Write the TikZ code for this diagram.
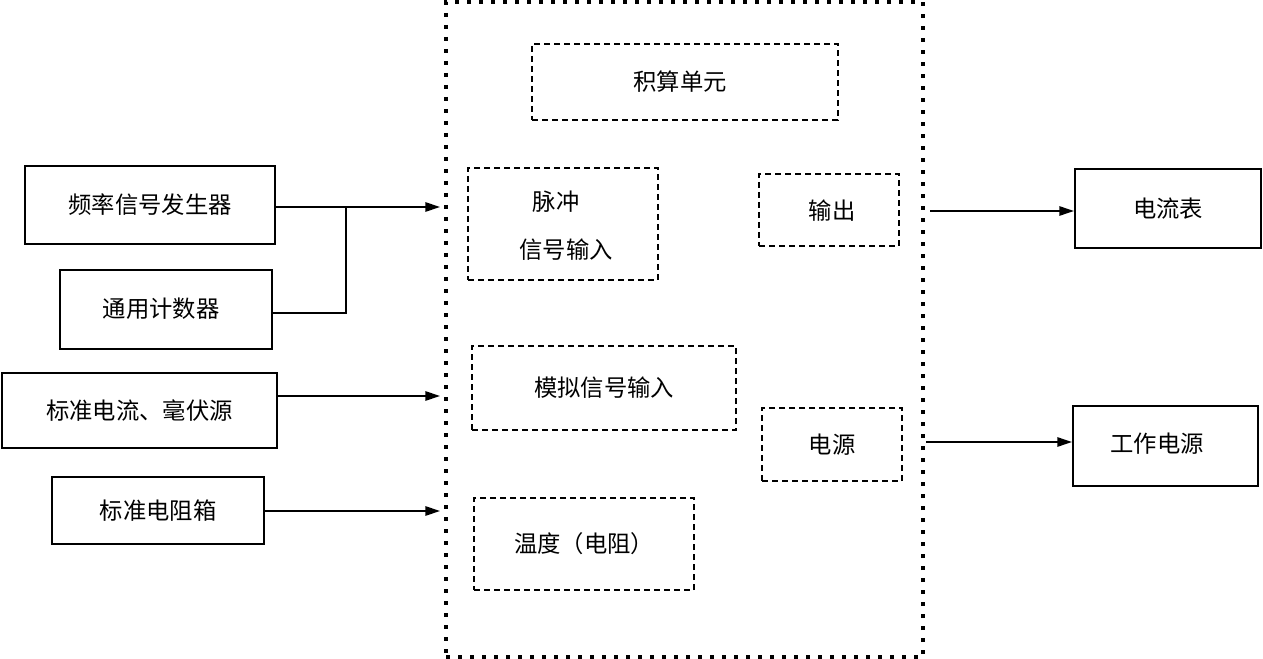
\documentclass[tikz,border=0pt]{standalone}
\usepackage{fontspec}
\setmainfont{Noto Sans CJK SC}
\usetikzlibrary{fit,arrows.meta}
\begin{document}
\begin{tikzpicture}[x=0.75pt,y=-0.75pt,
  box/.style={draw,line width=1.6pt,inner sep=0pt},
  dbox/.style={draw,line width=1.2pt,dash pattern=on 4.5pt off 3pt,inner sep=0pt},
  bigbox/.style={draw,line width=3.4pt,dash pattern=on 3pt off 6pt,inner sep=0pt},
  txt/.style={font=\fontsize{17.5}{21}\selectfont,inner sep=0pt,anchor=center},
  conn/.style={line width=1.4pt},
  arr/.style={line width=1.4pt,-{Triangle[length=11pt,width=7pt]}}]
\useasboundingbox (0,0) rectangle (1263,659);
% outer big dotted box
\node[bigbox,fit={(446,2)(923,657)}] (big) {};
% left boxes
\node[box,fit={(25,166)(275,244)}] (f) {};
\node[txt] (ft) at (f.center) {频率信号发生器};
\node[box,fit={(60,270)(272,349)}] (c) {};
\node[txt] (ct) at (161,309) {通用计数器};
\node[box,fit={(2,373)(277,448)}] (s) {};
\node[txt] (st) at (s.center) {标准电流、毫伏源};
\node[box,fit={(52,477)(264,544)}] (r) {};
\node[txt] (rt) at (r.center) {标准电阻箱};
% right boxes
\node[box,fit={(1075,169)(1261,248)}] (a) {};
\node[txt] (at) at (a.center) {电流表};
\node[box,fit={(1073,406)(1258,486)}] (w) {};
\node[txt] (wt) at (1157,444) {工作电源};
% inner dashed boxes
\node[dbox,fit={(532,44)(838,120)}] (u) {};
\node[txt] (ut) at (680,82) {积算单元};
\node[dbox,fit={(468,168)(658,280)}] (p) {};
\node[txt] (p1) at (556,202) {脉冲};
\node[txt] (p2) at (566,250) {信号输入};
\node[dbox,fit={(759,174)(899,246)}] (o) {};
\node[txt] (ot) at (832,211) {输出};
\node[dbox,fit={(472,346)(736,430)}] (m) {};
\node[txt] (mt) at (m.center) {模拟信号输入};
\node[dbox,fit={(762,408)(902,481)}] (e) {};
\node[txt] (et) at (e.center) {电源};
\node[dbox,fit={(474,498)(694,590)}] (t) {};
\node[txt] (tt) at (t.center) {温度（电阻）};
% coordinates
\coordinate (t1) at (440,207);
\coordinate (j) at (346,207);
\coordinate (t2) at (440,396);
\coordinate (t3) at (440,511);
\coordinate (o1) at (930,211);
\coordinate (o2) at (926,442);
% connectors
\draw[arr] (f.east |- t1) -- (t1);
\draw[conn] (c.east |- 0,313) -| (j);
\draw[arr] (s.east |- t2) -- (t2);
\draw[arr] (r.east |- t3) -- (t3);
\draw[arr] (o1) -- (a.west |- o1);
\draw[arr] (o2) -- (w.west |- o2);
\end{tikzpicture}
\end{document}
